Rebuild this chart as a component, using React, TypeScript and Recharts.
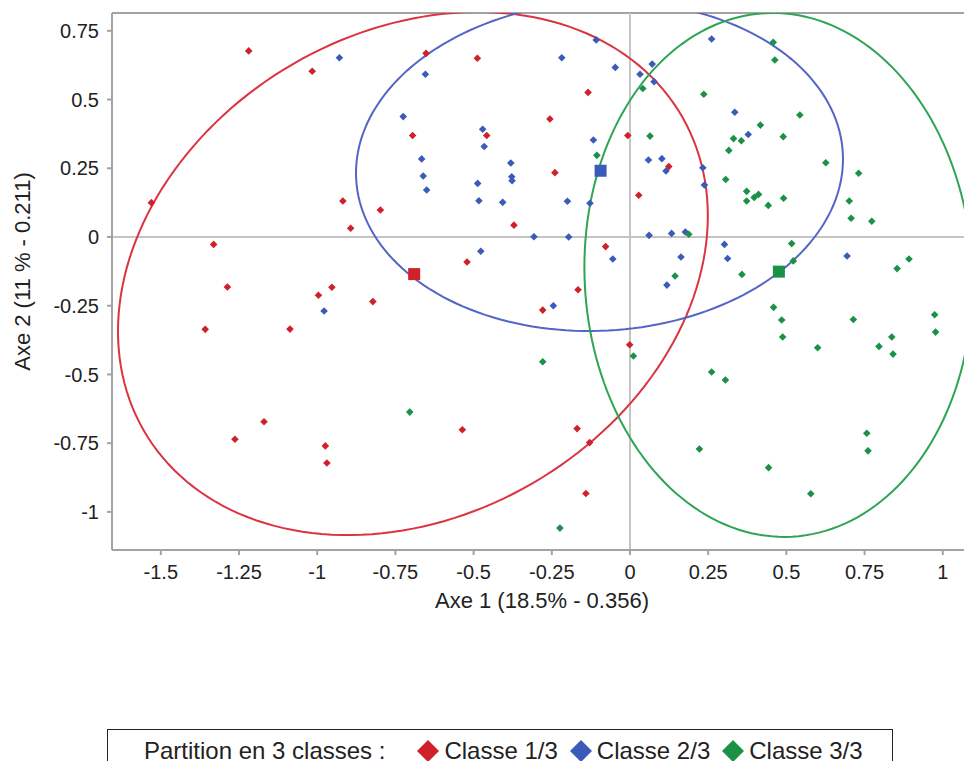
import { ScatterChart, Scatter, XAxis, YAxis, ReferenceLine, Legend } from 'recharts';

const xTicks = [-1.5, -1.25, -1, -0.75, -0.5, -0.25, 0, 0.25, 0.5, 0.75, 1];
const yTicks = [0.75, 0.5, 0.25, 0, -0.25, -0.5, -0.75, -1];
const xDomain = [-1.656, 1.0934];
const yDomain = [-1.1386, 0.8148];

const classLabels = ['Classe 1/3', 'Classe 2/3', 'Classe 3/3'];
const pointColors = ['#d0212b', '#3a5bb8', '#1b9146'];
const ellipseColors = ['#dc3340', '#5465c6', '#2ea455'];

// Classe 1/3
const classe1: [number, number][] = [
  [-1.219, 0.677], [-1.016, 0.603], [-1.53, 0.125], [-0.918, 0.131], [-0.893, 0.032],
  [-1.331, -0.027], [-0.652, 0.668], [-0.488, 0.65], [-0.134, 0.526], [-0.256, 0.429],
  [-0.458, 0.369], [-0.695, 0.369], [-0.24, 0.234], [-0.798, 0.098], [-0.371, 0.043],
  [-0.078, -0.035], [-0.521, -0.091], [-0.007, 0.369], [0.124, 0.256], [0.028, 0.152],
  [-1.287, -0.182], [-0.953, -0.183], [-0.996, -0.212], [-1.358, -0.336], [-1.087, -0.335],
  [-0.822, -0.235], [-1.17, -0.672], [-1.263, -0.736], [-0.974, -0.76], [-0.969, -0.822],
  [-0.166, -0.192], [-0.279, -0.266], [-0.536, -0.701], [-0.169, -0.697], [-0.129, -0.748],
  [-0.141, -0.933], [-0.001, -0.392],
];

// Classe 2/3
const classe2: [number, number][] = [
  [-0.929, 0.652], [-0.108, 0.717], [-0.218, 0.652], [-0.047, 0.617], [-0.654, 0.592],
  [-0.725, 0.438], [-0.471, 0.392], [-0.466, 0.329], [-0.117, 0.353], [-0.666, 0.284],
  [-0.381, 0.269], [-0.661, 0.222], [-0.378, 0.219], [-0.377, 0.205], [-0.487, 0.195],
  [-0.65, 0.171], [-0.483, 0.132], [-0.407, 0.126], [-0.2, 0.13], [-0.128, 0.123],
  [-0.307, 0.001], [-0.196, 0.0], [-0.477, -0.052], [-0.055, -0.08], [0.261, 0.72],
  [0.071, 0.629], [0.032, 0.592], [0.077, 0.565], [0.335, 0.454], [0.378, 0.373],
  [0.059, 0.28], [0.102, 0.285], [0.115, 0.24], [0.233, 0.252], [0.238, 0.189],
  [0.061, 0.006], [0.133, 0.013], [0.177, 0.018], [0.163, -0.073], [0.302, -0.027],
  [0.312, -0.078], [0.694, -0.069], [0.118, -0.175], [-0.978, -0.269], [-0.245, -0.25],
];

// Classe 3/3
const classe3: [number, number][] = [
  [0.458, 0.708], [0.463, 0.644], [0.041, 0.54], [0.236, 0.519], [0.543, 0.444],
  [0.417, 0.407], [0.49, 0.365], [0.064, 0.367], [0.331, 0.358], [0.356, 0.35],
  [0.316, 0.315], [0.626, 0.27], [-0.106, 0.297], [0.731, 0.232], [0.306, 0.209],
  [0.373, 0.166], [0.411, 0.155], [0.397, 0.144], [0.373, 0.131], [0.491, 0.141],
  [0.442, 0.115], [0.701, 0.131], [0.707, 0.068], [0.188, 0.01], [0.517, -0.024],
  [0.522, -0.087], [0.144, -0.142], [0.358, -0.136], [0.773, 0.057], [0.892, -0.08],
  [0.854, -0.115], [-0.279, -0.454], [-0.704, -0.637], [-0.224, -1.059], [0.459, -0.256],
  [0.485, -0.302], [0.488, -0.364], [0.6, -0.403], [0.714, -0.3], [0.011, -0.433],
  [0.261, -0.491], [0.305, -0.52], [0.222, -0.771], [0.443, -0.839], [0.578, -0.934],
  [0.974, -0.283], [0.977, -0.346], [0.837, -0.364], [0.796, -0.398], [0.841, -0.426],
  [0.757, -0.714], [0.761, -0.778],
];

// class centres (square markers)
const centroids: [number, number][] = [[-0.69, -0.135], [-0.094, 0.241], [0.476, -0.126]];

// ellipse centre and spread: [cx, cy, varX, varY, covXY]
const ellipse1 = [-0.694, -0.133, 0.889, 0.905, 0.198];
const ellipse2 = [-0.0975, 0.258, 0.606, 0.36, 0.0198];
const ellipse3 = [0.4747, -0.138, 0.385, 0.908, -0.0174];

const toXY = (arr: [number, number][]) => arr.map(([x, y]) => ({ x, y }));

function ellipseOutline(e: number[]) {
  const [cx, cy, sxx, syy, sxy] = e;
  const l11 = Math.sqrt(sxx);
  const l21 = sxy / l11;
  const l22 = Math.sqrt(syy - l21 * l21);
  const pts = [];
  for (let i = 0; i <= 180; i++) {
    const t = (i / 180) * Math.PI * 2;
    pts.push({ x: cx + l11 * Math.cos(t), y: cy + l21 * Math.cos(t) + l22 * Math.sin(t) });
  }
  return pts;
}

const diamond = (color: string) => (props: any) => {
  const { cx, cy } = props;
  const r = 3.8;
  return <polygon points={`${cx},${cy - r} ${cx + r},${cy} ${cx},${cy + r} ${cx - r},${cy}`} fill={color} />;
};

const square = (color: string) => (props: any) => {
  const { cx, cy } = props;
  return <rect x={cx - 6} y={cy - 6} width={12} height={12} fill={color} />;
};

const noShape = () => <g />;

const font = "'Liberation Sans', Arial, sans-serif";

function LegendDiamond({ color }: { color: string }) {
  return (
    <svg width={22} height={22} style={{ marginRight: 5 }}>
      <polygon points="11,0 22,11 11,22 0,11" fill={color} />
    </svg>
  );
}

const renderLegend = () => (
  <div
    style={{
      boxSizing: 'border-box',
      width: 786,
      height: 70,
      border: '1.5px solid #222',
      paddingLeft: 36,
      paddingTop: 7,
      fontFamily: font,
      fontSize: 24,
      lineHeight: '28px',
      color: '#222',
    }}
  >
    <div style={{ display: 'flex', alignItems: 'center', height: 28 }}>
      <span style={{ marginRight: 32 }}>Partition en 3 classes :</span>
      {classLabels.map((label, i) => (
        <span key={label} style={{ display: 'flex', alignItems: 'center', marginRight: 12 }}>
          <LegendDiamond color={pointColors[i]} />
          {label}
        </span>
      ))}
    </div>
  </div>
);

const classes = [classe1, classe2, classe3];
const ellipses = [ellipse1, ellipse2, ellipse3];

export default function App() {
  return (
    <div style={{ width: 964, height: 761, marginBottom: -8, overflow: 'hidden' }}>
      <ScatterChart width={964} height={761} margin={{ top: 5, right: 0, left: 0, bottom: 149 }}>
        <XAxis
          type="number"
          dataKey="x"
          domain={xDomain}
          ticks={xTicks}
          allowDataOverflow
          height={70}
          stroke="#a3a3a3"
          strokeWidth={2}
          tickSize={5}
          tickMargin={10}
          tick={{ fill: '#222', fontSize: 20, fontFamily: font }}
          label={{
            value: 'Axe 1 (18.5% - 0.356)',
            position: 'insideBottom',
            offset: 12,
            style: { fill: '#222', fontSize: 22, fontFamily: font },
          }}
        />
        <YAxis
          type="number"
          dataKey="y"
          domain={yDomain}
          ticks={yTicks}
          allowDataOverflow
          width={104}
          stroke="#a3a3a3"
          strokeWidth={2}
          tickSize={5}
          tickMargin={8}
          tick={{ fill: '#222', fontSize: 20, fontFamily: font }}
          label={{
            value: 'Axe 2 (11 % - 0.211)',
            angle: -90,
            position: 'insideLeft',
            offset: 14,
            dy: -10,
            style: { textAnchor: 'middle', fill: '#222', fontSize: 22, fontFamily: font },
          }}
        />
        <ReferenceLine y={yDomain[1]} stroke="#a3a3a3" strokeWidth={2} />
        <ReferenceLine x={0} stroke="#c4c4c4" strokeWidth={2} />
        <ReferenceLine y={0} stroke="#c4c4c4" strokeWidth={2} />
        {ellipses.map((e, i) => (
          <Scatter
            key={`ell-${i}`}
            data={ellipseOutline(e)}
            line={{ stroke: ellipseColors[i], strokeWidth: 2 }}
            lineType="joint"
            shape={noShape}
            legendType="none"
            isAnimationActive={false}
          />
        ))}
        {classes.map((c, i) => (
          <Scatter
            key={classLabels[i]}
            name={classLabels[i]}
            data={toXY(c)}
            shape={diamond(pointColors[i])}
            fill={pointColors[i]}
            isAnimationActive={false}
          />
        ))}
        {centroids.map((c, i) => (
          <Scatter
            key={`c-${i}`}
            data={toXY([c])}
            shape={square(pointColors[i])}
            legendType="none"
            isAnimationActive={false}
          />
        ))}
        <Legend
          verticalAlign="middle"
          layout="horizontal"
          content={renderLegend}
          wrapperStyle={{ top: 721, left: 99, width: 786, height: 70 }}
        />
      </ScatterChart>
    </div>
  );
}
